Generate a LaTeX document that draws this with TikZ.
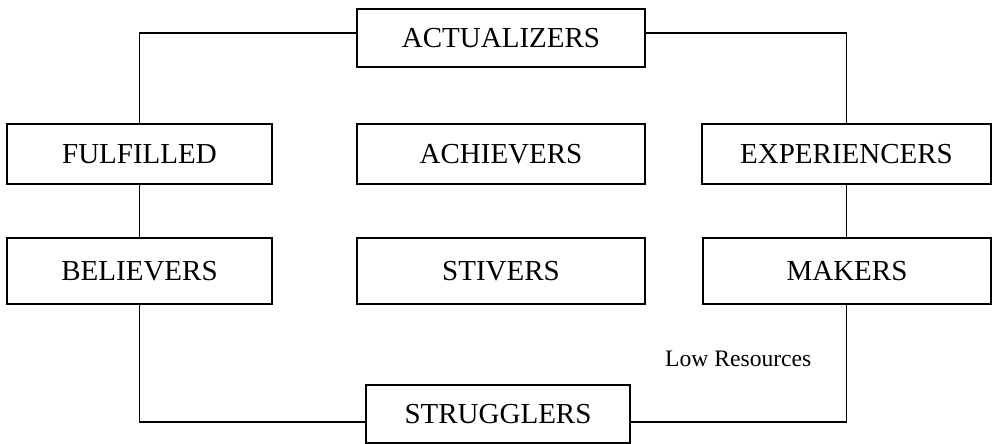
\documentclass[tikz,border=0pt]{standalone}
\usepackage{fontspec}
\setmainfont{Liberation Serif}
\begin{document}
\begin{tikzpicture}[x=1pt,y=-1pt,
  seg/.style={draw=black, line width=1.6pt, inner sep=0pt, font=\fontsize{29}{29}\selectfont},
  link/.style={draw=black, line width=1.5pt}]
  \path[fill=white] (0,0) rectangle (993,444);
  \useasboundingbox (0,0) rectangle (993,444);

  % top
  \node[seg, minimum width=288pt, minimum height=58pt] (act) at (501,38) {ACTUALIZERS};
  % first row
  \node[seg, minimum width=265pt, minimum height=60pt] (ful) at (139.5,154) {FULFILLED};
  \node[seg, minimum width=288pt, minimum height=60pt] (ach) at (501,154) {ACHIEVERS};
  \node[seg, minimum width=289pt, minimum height=60pt] (exp) at (846.5,154) {EXPERIENCERS};
  % second row
  \node[seg, minimum width=265pt, minimum height=66pt] (bel) at (139.5,271) {BELIEVERS};
  \node[seg, minimum width=288pt, minimum height=66pt] (sti) at (501,271) {STIVERS};
  \node[seg, minimum width=288pt, minimum height=66pt] (mak) at (847,271) {MAKERS};
  % bottom
  \node[seg, minimum width=264pt, minimum height=58pt] (str) at (498,414) {STRUGGLERS};

  \node[anchor=base west, inner sep=0pt, font=\fontsize{23.6}{23.6}\selectfont] (low) at (665,366) {Low Resources};

  % connectors
  \coordinate (actL) at ([yshift=5pt]act.west);
  \coordinate (actR) at ([yshift=5pt]act.east);
  \coordinate (strL) at ([yshift=-8pt]str.west);
  \coordinate (strR) at ([yshift=-8pt]str.east);
  \draw[link] (actL) -| (ful.north);
  \draw[link] (actR) -| (exp.north);
  \draw[link] (ful.south) -- (bel.north);
  \draw[link] (exp.south) -- (exp.south |- mak.north);
  \draw[link] (bel.south) |- (strL);
  \draw[link] (exp.south |- mak.south) |- (strR);
\end{tikzpicture}
\end{document}
